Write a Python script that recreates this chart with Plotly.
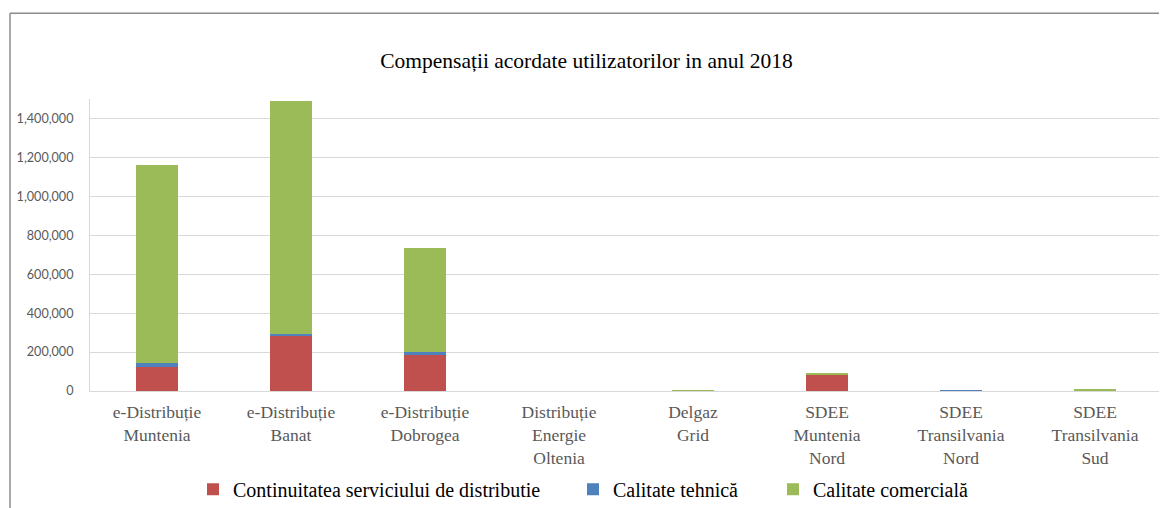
import plotly.graph_objects as go

categories = [
    "e-Distribuție<br>Muntenia",
    "e-Distribuție<br>Banat",
    "e-Distribuție<br>Dobrogea",
    "Distribuție<br>Energie<br>Oltenia",
    "Delgaz<br>Grid",
    "SDEE<br>Muntenia<br>Nord",
    "SDEE<br>Transilvania<br>Nord",
    "SDEE<br>Transilvania<br>Sud",
]
continuitate = [122000, 281000, 187000, 0, 0, 87000, 0, 0]
calitate_tehnica = [23000, 14000, 14000, 0, 0, 0, 4000, 0]
calitate_comerciala = [1016000, 1195000, 533000, 0, 4000, 3000, 0, 12000]

series_names = [
    "Continuitatea serviciului de distributie",
    "Calitate tehnică",
    "Calitate comercială",
]
colors = ["#C0504D", "#4F81BD", "#9BBB59"]

# The page body adds an 8px offset; work in screen pixels and subtract it.
OFF = 8
W, H = 1167 - OFF, 508 - OFF
plot_left, plot_right, plot_top, plot_bottom = 90, 1162, 99, 391.5
L = plot_left - OFF
R = W - (plot_right - OFF)
T = plot_top - OFF
B = H - (plot_bottom - OFF)
pw, ph = W - L - R, H - T - B

def px_x(x):  # screen x -> paper
    return (x - OFF - L) / pw

def px_y(y):  # screen y -> paper
    return (H - B - (y - OFF)) / ph

fig = go.Figure()
legend_ids = ["legend", "legend2", "legend3"]
for name, vals, col, lg in zip(series_names, [continuitate, calitate_tehnica, calitate_comerciala], colors, legend_ids):
    fig.add_trace(go.Bar(x=categories, y=vals, name=name, legend=lg,
                         marker=dict(color=col, line=dict(width=0))))

legend_text_starts = [233, 613, 813]
legend_common = dict(
    orientation="h",
    yanchor="middle",
    y=px_y(490),
    xanchor="left",
    font=dict(family="Liberation Serif", size=20, color="#000000"),
    bgcolor="rgba(0,0,0,0)",
    borderwidth=0,
)
legends = {}
for lg, ts in zip(legend_ids, legend_text_starts):
    legends[lg] = dict(legend_common, x=px_x(ts - 40))

fig.update_layout(
    width=W, height=H,
    barmode="stack",
    bargap=0.687,
    plot_bgcolor="white",
    paper_bgcolor="white",
    margin=dict(l=L, r=R, t=T, b=B, autoexpand=False),
    title=dict(
        text="Compensații acordate utilizatorilor in anul 2018",
        x=(586.5 - OFF) / W, xanchor="center", y=1 - (60 - OFF) / H, yanchor="middle",
        font=dict(family="Liberation Serif", size=21.5, color="#000000"),
    ),
    showlegend=True,
    **legends,
)
fig.update_yaxes(
    range=[0, 1500000],
    dtick=200000,
    tickformat=",",
    showgrid=True, gridcolor="#D9D9D9", gridwidth=1,
    showline=True, linecolor="#D9D9D9", linewidth=1,
    zeroline=False,
    automargin=False,
    tickfont=dict(family="Lato", size=12.6, color="#595959"),
    ticklabelstandoff=13,
)
fig.update_xaxes(
    showline=True, linecolor="#D9D9D9", linewidth=1,
    automargin=False,
    tickfont=dict(family="Liberation Serif", size=17.5, color="#595959"),
    ticklabelstandoff=5,
)
# outer frame (partial, as in reference)
fig.add_shape(type="line", xref="paper", yref="paper",
              x0=px_x(10), x1=px_x(1175), y0=px_y(13), y1=px_y(13),
              line=dict(color="#8C8C8C", width=1.5))
fig.add_shape(type="line", xref="paper", yref="paper",
              x0=px_x(10), x1=px_x(10), y0=px_y(13), y1=px_y(515),
              line=dict(color="#8C8C8C", width=1.5))

fig.write_html("out.html")
